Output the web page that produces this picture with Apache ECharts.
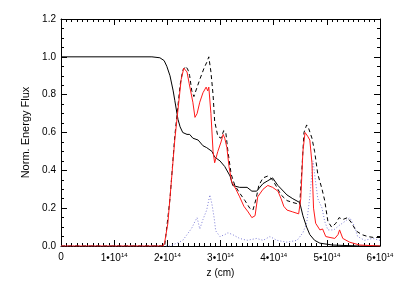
<!DOCTYPE html>
<html>
<head>
<meta charset="utf-8">
<script src="https://cdn.jsdelivr.net/npm/echarts@6/dist/echarts.min.js"></script>
<style>
html,body{margin:0;padding:0;background:#fff;}
#c{width:399px;height:285px;}
</style>
</head>
<body>
<div id="c"></div>
<script>
// z in units of 1e14 cm
var xTicks = [0, 1, 2, 3, 4, 5, 6];
var yTicks = [0.0, 0.2, 0.4, 0.6, 0.8, 1.0, 1.2];

var zSolid = [0, 1.71, 1.86, 1.94, 1.99, 2.05, 2.11, 2.14, 2.20, 2.24, 2.29, 2.37, 2.42, 2.48, 2.58, 2.67, 2.74, 2.84, 2.89, 2.99, 3.08, 3.18, 3.23, 3.36, 3.50, 3.59, 3.68, 3.80, 3.89, 3.98, 4.08, 4.25, 4.36, 4.49, 4.55, 4.62, 4.68, 4.77, 4.87, 5.11, 5.62, 6.0];
var vSolid = [1.0, 1.0, 0.995, 0.98, 0.95, 0.90, 0.82, 0.77, 0.67, 0.63, 0.60, 0.59, 0.59, 0.57, 0.56, 0.53, 0.52, 0.50, 0.47, 0.45, 0.42, 0.37, 0.32, 0.31, 0.31, 0.29, 0.29, 0.33, 0.345, 0.36, 0.32, 0.27, 0.25, 0.23, 0.16, 0.10, 0.06, 0.03, 0.015, 0.005, 0.0, 0.0];

var zRed = [0, 1.92, 1.95, 2.01, 2.09, 2.14, 2.20, 2.26, 2.31, 2.37, 2.41, 2.44, 2.48, 2.52, 2.56, 2.61, 2.67, 2.73, 2.76, 2.78, 2.82, 2.86, 2.89, 2.95, 3.01, 3.05, 3.08, 3.12, 3.16, 3.21, 3.29, 3.36, 3.44, 3.52, 3.59, 3.65, 3.70, 3.80, 3.89, 3.98, 4.08, 4.14, 4.19, 4.25, 4.36, 4.47, 4.51, 4.55, 4.59, 4.64, 4.68, 4.72, 4.75, 4.79, 4.87, 4.92, 4.98, 5.06, 5.15, 5.21, 5.24, 5.30, 5.43, 5.62, 6.0];
var vRed = [0.0, 0.0, 0.02, 0.12, 0.39, 0.56, 0.72, 0.88, 0.94, 0.92, 0.86, 0.85, 0.76, 0.68, 0.70, 0.76, 0.81, 0.84, 0.82, 0.84, 0.70, 0.50, 0.44, 0.50, 0.55, 0.59, 0.57, 0.52, 0.42, 0.34, 0.30, 0.26, 0.21, 0.18, 0.15, 0.16, 0.26, 0.30, 0.32, 0.31, 0.29, 0.25, 0.21, 0.19, 0.18, 0.17, 0.25, 0.50, 0.60, 0.58, 0.56, 0.44, 0.20, 0.12, 0.085, 0.09, 0.05, 0.045, 0.04, 0.06, 0.085, 0.04, 0.02, 0.005, 0.0];

var zDash = [0, 1.95, 2.05, 2.14, 2.24, 2.29, 2.35, 2.39, 2.42, 2.46, 2.50, 2.56, 2.61, 2.69, 2.74, 2.78, 2.82, 2.86, 2.89, 2.95, 3.01, 3.06, 3.10, 3.14, 3.20, 3.27, 3.36, 3.46, 3.55, 3.61, 3.67, 3.72, 3.80, 3.89, 3.98, 4.06, 4.14, 4.25, 4.36, 4.49, 4.53, 4.57, 4.62, 4.66, 4.72, 4.77, 4.83, 4.91, 4.96, 5.02, 5.09, 5.17, 5.23, 5.30, 5.39, 5.47, 5.55, 5.66, 5.77, 5.88, 6.0];
var vDash = [0.0, 0.0, 0.25, 0.58, 0.85, 0.93, 0.95, 0.93, 0.90, 0.82, 0.79, 0.84, 0.88, 0.94, 0.97, 1.00, 0.92, 0.80, 0.66, 0.58, 0.57, 0.61, 0.60, 0.50, 0.38, 0.32, 0.28, 0.24, 0.20, 0.19, 0.25, 0.32, 0.36, 0.37, 0.35, 0.31, 0.27, 0.24, 0.23, 0.22, 0.40, 0.60, 0.64, 0.62, 0.57, 0.50, 0.38, 0.30, 0.24, 0.13, 0.10, 0.12, 0.15, 0.14, 0.15, 0.12, 0.08, 0.06, 0.05, 0.045, 0.045];

var zDot = [0, 2.05, 2.18, 2.29, 2.37, 2.46, 2.52, 2.56, 2.61, 2.67, 2.74, 2.80, 2.84, 2.88, 2.91, 2.99, 3.08, 3.14, 3.23, 3.36, 3.50, 3.68, 3.80, 3.93, 4.06, 4.25, 4.44, 4.55, 4.62, 4.68, 4.74, 4.77, 4.83, 4.91, 4.96, 5.02, 5.13, 5.24, 5.34, 5.43, 5.51, 5.58, 5.71, 5.86, 6.0];
var vDot = [0.0, 0.0, 0.015, 0.03, 0.06, 0.095, 0.13, 0.15, 0.09, 0.14, 0.19, 0.27, 0.22, 0.15, 0.08, 0.05, 0.06, 0.07, 0.06, 0.04, 0.03, 0.04, 0.03, 0.05, 0.03, 0.02, 0.03, 0.07, 0.12, 0.26, 0.45, 0.38, 0.25, 0.20, 0.13, 0.085, 0.085, 0.11, 0.13, 0.15, 0.11, 0.05, 0.03, 0.04, 0.03];

function pairs(xs, ys) { return xs.map(function (x, i) { return [x, ys[i]]; }); }

var FONT = 'Liberation Sans';
var chart = echarts.init(document.getElementById('c'), null, { renderer: 'canvas' });

function xLab(v) {
  if (v === 0) return '{m|0}';
  return '{m|' + v + '\u202210}{s|14}';
}

var axisBase = {
  type: 'value',
  axisLine: { show: true, onZero: false, lineStyle: { color: '#000', width: 1 } },
  axisTick: { show: true, inside: true, length: 6, lineStyle: { color: '#000' } },
  minorTick: { show: true, length: 3, lineStyle: { color: '#000' } },
  splitLine: { show: false },
  minorSplitLine: { show: false }
};

chart.setOption({
  animation: false,
  backgroundColor: '#fff',
  grid: { left: 61, right: 19, top: 19, bottom: 39 },
  xAxis: [
    Object.assign({}, axisBase, {
      min: 0, max: 6, interval: 1, position: 'bottom',
      minorTick: { show: true, splitNumber: 10, length: 3, lineStyle: { color: '#000' } },
      name: 'z (cm)', nameLocation: 'middle', nameGap: 21,
      nameTextStyle: { fontFamily: FONT, fontSize: 10, color: '#000' },
      axisLabel: {
        margin: 6, color: '#000', fontFamily: FONT,
        formatter: xLab,
        rich: {
          m: { fontSize: 10, fontFamily: FONT, color: '#000' },
          s: { fontSize: 6, fontFamily: FONT, color: '#000', padding: [0, 0, 6, 0] }
        }
      }
    }),
    Object.assign({}, axisBase, {
      min: 0, max: 6, interval: 1, position: 'top',
      minorTick: { show: true, splitNumber: 10, length: 3, lineStyle: { color: '#000' } },
      axisLabel: { show: false }
    })
  ],
  yAxis: [
    Object.assign({}, axisBase, {
      min: 0, max: 1.2, interval: 0.2, position: 'left',
      minorTick: { show: true, splitNumber: 4, length: 3, lineStyle: { color: '#000' } },
      name: 'Norm. Energy Flux', nameLocation: 'middle', nameGap: 26,
      nameTextStyle: { fontFamily: FONT, fontSize: 11, color: '#000' },
      axisLabel: {
        margin: 5, color: '#000', fontFamily: FONT, fontSize: 10,
        formatter: function (v) { return v.toFixed(1); }
      }
    }),
    Object.assign({}, axisBase, {
      min: 0, max: 1.2, interval: 0.2, position: 'right',
      minorTick: { show: true, splitNumber: 4, length: 3, lineStyle: { color: '#000' } },
      axisLabel: { show: false }
    })
  ],
  series: [
    { type: 'line', data: pairs(zDot, vDot), showSymbol: false, symbol: 'none',
      lineStyle: { color: '#7f7fd6', width: 1, type: [1, 2] }, z: 2 },
    { type: 'line', data: pairs(zSolid, vSolid), showSymbol: false, symbol: 'none',
      lineStyle: { color: '#000', width: 1 }, z: 3 },
    { type: 'line', data: pairs(zDash, vDash), showSymbol: false, symbol: 'none',
      lineStyle: { color: '#000', width: 1, type: [4, 3] }, z: 4 },
    { type: 'line', data: pairs(zRed, vRed), showSymbol: false, symbol: 'none',
      lineStyle: { color: '#ff1a1a', width: 1 }, z: 5 }
  ]
});
</script>
</body>
</html>
